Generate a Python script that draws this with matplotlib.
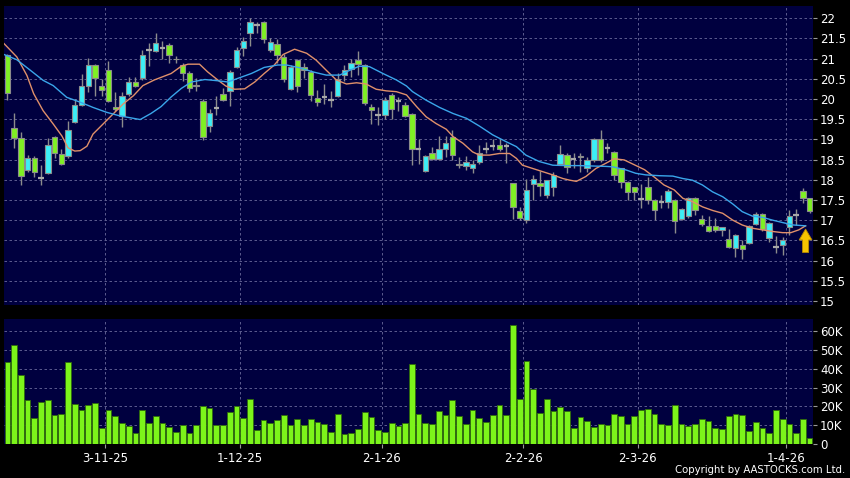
import matplotlib
matplotlib.use("Agg")
import matplotlib.pyplot as plt
import numpy as np

# daily OHLC (index 0 = first candle)
opens = [21.08, 19.28, 19.04, 18.25, 18.54, 18.04, 18.17, 19.07, 18.64, 18.60,
         19.43, 19.85, 20.33, 20.85, 20.33, 20.71, 19.81, 19.58, 20.12, 20.42,
         20.52, 21.21, 21.18, 21.25, 21.33, 21.00, 20.85, 20.64, 20.35, 19.94,
         19.32, 19.78, 20.12, 20.19, 20.79, 21.26, 21.62, 21.84, 21.90, 21.21,
         21.37, 21.04, 20.25, 20.96, 20.79, 20.67, 20.02, 20.04, 19.98, 20.08,
         20.58, 20.73, 20.97, 20.83, 19.81, 19.61, 19.60, 20.10, 19.96, 19.85,
         19.62, 18.75, 18.21, 18.67, 18.52, 18.77, 19.05, 18.40, 18.33, 18.28,
         18.44, 18.75, 18.84, 18.87, 18.84, 17.91, 17.23, 17.00, 17.89, 17.93,
         17.62, 17.81, 18.39, 18.60, 18.51, 18.58, 18.30, 18.49, 19.00, 18.79,
         18.69, 18.28, 17.95, 17.81, 17.52, 17.81, 17.50, 17.44, 17.46, 17.50,
         17.04, 17.10, 17.56, 17.02, 16.85, 16.85, 16.76, 16.53, 16.31, 16.39,
         16.43, 16.90, 17.15, 16.57, 16.34, 16.38, 16.83, 17.12, 17.71, 17.54]
highs = [21.10, 19.64, 19.17, 18.62, 18.58, 18.37, 19.04, 19.08, 18.75, 19.46,
         20.00, 20.62, 21.02, 20.87, 20.50, 20.93, 20.17, 20.17, 20.54, 20.54,
         21.20, 21.39, 21.62, 21.43, 21.38, 21.06, 20.89, 20.68, 20.52, 20.00,
         19.74, 20.08, 20.27, 20.71, 21.29, 21.54, 22.00, 21.91, 21.93, 21.50,
         21.48, 21.12, 20.83, 21.00, 20.88, 20.71, 20.21, 20.37, 20.19, 20.64,
         20.83, 21.00, 21.19, 20.87, 19.87, 19.79, 20.04, 20.14, 20.04, 19.92,
         19.64, 19.00, 18.62, 18.81, 19.08, 19.08, 19.24, 18.57, 18.58, 18.50,
         18.87, 18.94, 19.02, 19.02, 18.90, 17.92, 17.33, 18.03, 18.11, 18.22,
         18.00, 18.20, 18.86, 18.65, 18.65, 18.65, 18.57, 19.04, 19.23, 18.90,
         18.72, 18.30, 17.97, 17.83, 17.89, 18.08, 17.52, 17.62, 17.77, 17.52,
         17.29, 17.58, 17.58, 17.13, 17.10, 17.05, 16.84, 16.78, 16.65, 16.50,
         16.87, 17.19, 17.17, 16.95, 16.60, 16.58, 17.26, 17.27, 17.80, 17.56]
lows = [19.97, 18.79, 17.86, 18.20, 18.08, 17.87, 18.15, 18.54, 18.36, 18.54,
        19.41, 19.83, 20.17, 20.08, 20.08, 19.92, 19.70, 19.31, 20.08, 20.30,
        20.48, 20.81, 21.16, 20.98, 20.89, 20.89, 20.44, 20.17, 20.19, 18.99,
        19.17, 19.59, 19.94, 19.82, 20.77, 21.06, 21.30, 21.63, 21.38, 21.15,
        20.88, 20.42, 20.21, 20.17, 20.52, 19.96, 19.83, 19.87, 19.79, 20.06,
        20.45, 20.55, 20.60, 19.85, 19.38, 19.35, 19.50, 19.50, 19.71, 19.55,
        18.36, 18.40, 18.18, 18.48, 18.50, 18.57, 18.48, 18.28, 18.24, 18.17,
        18.40, 18.65, 18.73, 18.72, 18.42, 17.03, 17.00, 16.94, 17.50, 17.60,
        17.54, 17.60, 18.36, 18.16, 18.30, 18.20, 18.18, 18.45, 18.45, 18.66,
        17.99, 17.79, 17.50, 17.50, 17.29, 17.40, 17.00, 17.30, 17.30, 16.67,
        17.00, 17.05, 17.13, 16.85, 16.70, 16.70, 16.60, 16.30, 16.10, 16.05,
        16.42, 16.88, 16.72, 16.47, 16.18, 16.14, 16.63, 16.88, 17.42, 17.17]
closes = [20.15, 19.03, 18.10, 18.54, 18.20, 18.04, 18.85, 18.65, 18.40, 19.22,
          19.85, 20.33, 20.85, 20.52, 20.22, 19.96, 19.74, 20.07, 20.42, 20.33,
          21.08, 21.21, 21.39, 21.25, 21.08, 20.98, 20.64, 20.27, 20.33, 19.07,
          19.65, 19.78, 19.98, 20.67, 21.21, 21.43, 21.90, 21.84, 21.49, 21.41,
          21.08, 20.50, 20.79, 20.31, 20.72, 20.10, 19.92, 20.04, 19.98, 20.50,
          20.72, 20.89, 20.86, 19.89, 19.72, 19.61, 19.97, 19.75, 19.96, 19.58,
          18.75, 18.75, 18.59, 18.52, 18.77, 18.92, 18.61, 18.36, 18.44, 18.40,
          18.67, 18.75, 18.84, 18.77, 18.84, 17.33, 17.05, 17.75, 18.01, 17.85,
          17.99, 18.12, 18.63, 18.32, 18.51, 18.56, 18.49, 19.00, 18.50, 18.79,
          18.12, 17.95, 17.70, 17.70, 17.52, 17.50, 17.25, 17.44, 17.73, 16.99,
          17.27, 17.56, 17.24, 16.90, 16.72, 16.75, 16.83, 16.34, 16.64, 16.28,
          16.86, 17.15, 16.77, 16.94, 16.34, 16.50, 17.10, 17.12, 17.54, 17.22]

# volume in thousands of shares
volume_k = [43.8, 52.7, 36.7, 23.3, 13.9, 22.2, 23.3, 15.3, 16.2, 43.8,
            21.5, 18.0, 20.6, 21.9, 8.7, 18.0, 14.9, 11.4, 9.4, 6.0,
            18.0, 11.4, 14.9, 11.2, 9.1, 6.4, 10.3, 5.9, 10.3, 20.1,
            19.4, 10.3, 10.0, 16.9, 20.3, 13.9, 23.8, 7.3, 12.6, 11.2,
            13.0, 15.3, 10.3, 13.5, 10.3, 13.2, 11.7, 10.9, 6.6, 15.8,
            5.5, 5.9, 7.8, 16.9, 14.1, 7.3, 6.2, 11.4, 9.6, 11.2,
            42.5, 15.8, 11.4, 10.9, 17.4, 15.3, 23.3, 14.8, 10.9, 18.0,
            13.9, 11.7, 15.3, 21.0, 15.3, 63.3, 23.8, 44.1, 29.0, 16.5,
            23.7, 17.6, 19.8, 17.4, 8.5, 14.1, 12.3, 9.1, 10.5, 10.0,
            15.7, 15.1, 10.5, 14.8, 18.0, 18.7, 15.7, 10.5, 10.0, 21.0,
            10.9, 9.4, 10.5, 13.5, 12.3, 8.5, 8.2, 14.8, 16.2, 15.5,
            6.9, 11.7, 8.7, 5.9, 18.3, 13.5, 10.9, 6.0, 13.2, 3.2]

# moving averages (x = candle index)
ma_fast_x = [-0.5, 1.4, 2.9, 3.9, 5.3, 6.8, 8.1, 9.0, 10.0, 10.8, 11.8, 12.7,
             14.2, 15.7, 17.2, 18.7, 20.1, 21.8, 24.3, 25.8, 26.8, 28.5, 29.7,
             31.2, 32.4, 33.7, 35.2, 36.7, 38.1, 39.6, 40.9, 42.6, 44.4, 45.8,
             47.3, 48.8, 50.3, 51.8, 53.2, 54.7, 56.2, 57.7, 59.2, 60.7, 62.1,
             63.6, 65.1, 66.1, 67.6, 69.0, 70.0, 71.5, 73.0, 74.5, 75.5, 76.4,
             77.9, 79.4, 80.9, 82.4, 83.4, 84.4, 85.8, 87.3, 88.8, 90.0, 91.5,
             93.0, 94.5, 96.0, 97.4, 98.9, 100.2, 101.6, 103.1, 104.6, 106.1,
             107.6, 109.0, 110.5, 112.0, 113.5, 115.0, 116.2, 117.4, 118.4]
ma_fast = [21.37, 21.04, 20.58, 20.13, 19.71, 19.38, 19.08, 18.79, 18.71, 18.72,
           18.83, 19.13, 19.38, 19.63, 19.88, 20.08, 20.33, 20.47, 20.63, 20.81,
           20.86, 20.86, 20.67, 20.47, 20.32, 20.24, 20.25, 20.42, 20.63, 20.84,
           21.10, 21.23, 21.13, 20.96, 20.71, 20.47, 20.37, 20.40, 20.37, 20.24,
           20.20, 20.18, 20.10, 19.81, 19.56, 19.39, 19.25, 19.07, 18.90, 18.69,
           18.61, 18.61, 18.65, 18.65, 18.53, 18.36, 18.28, 18.20, 18.12, 18.03,
           17.99, 17.96, 18.08, 18.28, 18.41, 18.52, 18.49, 18.37, 18.25, 18.06,
           17.87, 17.75, 17.54, 17.46, 17.33, 17.24, 17.17, 17.00, 16.88, 16.80,
           16.76, 16.72, 16.69, 16.69, 16.76, 16.86]
ma_slow_x = [-0.5, 1.4, 3.4, 5.3, 6.8, 8.8, 10.8, 12.7, 14.7, 16.7, 18.7, 19.7,
             21.3, 22.8, 24.3, 25.8, 27.3, 29.3, 31.2, 32.7, 34.2, 36.2, 38.1,
             40.1, 41.4, 43.4, 45.3, 47.3, 49.3, 50.8, 52.2, 53.7, 55.7, 57.7,
             59.2, 60.1, 62.1, 64.1, 66.1, 68.1, 70.0, 72.0, 74.0, 75.5, 76.9,
             78.9, 80.9, 82.9, 84.8, 86.8, 88.8, 89.8, 91.8, 93.2, 94.7, 96.7,
             98.7, 100.2, 101.6, 103.1, 104.6, 106.1, 107.6, 109.0, 110.5, 112.0,
             113.5, 115.0, 116.6, 118.4]
ma_slow = [21.10, 20.97, 20.71, 20.46, 20.33, 20.04, 19.92, 19.79, 19.67, 19.58,
           19.52, 19.49, 19.64, 19.81, 20.05, 20.26, 20.42, 20.48, 20.45, 20.42,
           20.51, 20.63, 20.78, 20.84, 20.84, 20.77, 20.67, 20.59, 20.59, 20.71,
           20.81, 20.80, 20.63, 20.47, 20.32, 20.18, 19.97, 19.79, 19.64, 19.52,
           19.33, 19.11, 18.94, 18.82, 18.61, 18.45, 18.36, 18.35, 18.35, 18.34,
           18.33, 18.32, 18.24, 18.16, 18.12, 18.10, 18.09, 18.03, 17.99, 17.87,
           17.70, 17.58, 17.40, 17.21, 17.10, 17.07, 17.00, 16.94, 16.88, 16.86]

date_pos = [14.5, 34.5, 55.5, 76.5, 93.5, 115.5]
date_labels = ['3-11-25', '1-12-25', '2-1-26', '2-2-26', '2-3-26', '1-4-26']
price_ticks = np.arange(15, 22.01, 0.5)
vol_ticks = [0, 10, 20, 30, 40, 50, 60]

BG = '#00003f'
GRID = '#6b6b9c'
UP = '#3ceef6'
DOWN = '#7ff024'
EDGE = '#8c8c8c'

W, H = 850, 478
fig = plt.figure(figsize=(8.5, 4.78), dpi=100, facecolor='black')
ax = fig.add_axes([4 / W, 1 - 305 / H, 809 / W, 299 / H], facecolor=BG)
axv = fig.add_axes([4 / W, 1 - 444 / H, 809 / W, 125 / H], facecolor=BG, sharex=ax)

idx = np.arange(len(closes))
o = np.array(opens)
c = np.array(closes)
up = c > o
dn = c < o
flat = c == o

ax.vlines(idx, lows, highs, color=EDGE, lw=1, zorder=2)
ax.bar(idx[up], (c - o)[up], bottom=o[up], width=0.8, color=UP,
       edgecolor=EDGE, lw=0.8, zorder=3)
ax.bar(idx[dn], (o - c)[dn], bottom=c[dn], width=0.8, color=DOWN,
       edgecolor=EDGE, lw=0.8, zorder=3)
ax.hlines(c[flat], idx[flat] - 0.4, idx[flat] + 0.4, color='#a8a8a8', lw=1.6, zorder=3)

ax.plot(ma_fast_x, ma_fast, color='#e0906a', lw=1, zorder=4)
ax.plot(ma_slow_x, ma_slow, color='#3aa6ea', lw=1, zorder=4)

# yellow marker arrow at the last bar
ax.arrow(118.4, 16.2, 0, 0.58, width=0.9, head_width=1.9, head_length=0.27,
         length_includes_head=True, fc='#f6c400', ec='#b88a00', lw=0.6, zorder=5)

axv.bar(idx, volume_k, width=0.85, color='#7cf41a', edgecolor='#2f6a0c', lw=0.6, zorder=3)

for a in (ax, axv):
    for s in a.spines.values():
        s.set_visible(False)
    a.yaxis.tick_right()
    a.grid(True, color=GRID, lw=0.6, linestyle=(0, (3, 3)), zorder=0)
    a.tick_params(axis='y', colors='white', labelsize=8.5, length=3, width=0.8, pad=2)
    a.tick_params(axis='y', color='#9a9a9a')

ax.set_xlim(-0.5, 119.5)
ax.set_ylim(14.9, 22.3)
ax.set_yticks(price_ticks)
ax.set_yticklabels(['%g' % t for t in price_ticks])
ax.set_xticks(date_pos)
ax.tick_params(axis='x', length=0, labelbottom=False)

axv.set_ylim(0, 66.5)
axv.set_yticks(vol_ticks)
axv.set_yticklabels(['0' if v == 0 else '%dK' % v for v in vol_ticks])
axv.tick_params(axis='x', colors='white', labelsize=8.5, length=3, pad=3)
axv.tick_params(axis='x', color='#9a9a9a')
axv.set_xticks(date_pos)
axv.set_xticklabels(date_labels)

fig.text(845 / W, 1 - 470 / H, 'Copyright by AASTOCKS.com Ltd.', ha='right',
         va='center', color='white', fontsize=7.3)

fig.savefig('out.png', dpi=100, facecolor='black')
